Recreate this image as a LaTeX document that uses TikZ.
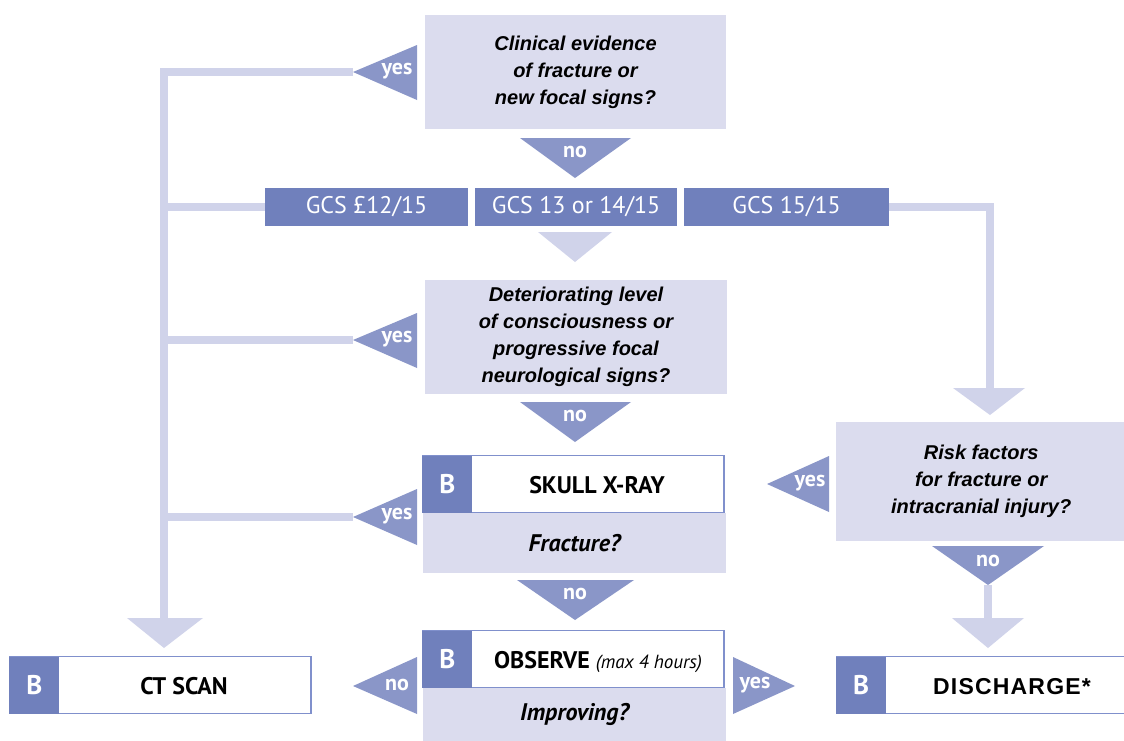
\documentclass[tikz,border=0pt]{standalone}
\usepackage{fontspec}
\setmainfont{Liberation Sans}
\newfontfamily\condfont{PT Sans}
\definecolor{lightbox}{HTML}{DBDCEE}
\definecolor{connc}{HTML}{D0D3EA}
\definecolor{tridark}{HTML}{8A96C8}
\definecolor{gcsblue}{HTML}{7080BC}
\definecolor{bordc}{HTML}{8090CC}
\begin{document}
\begin{tikzpicture}[x=1pt,y=-1pt,
  qbox/.style={fill=lightbox, inner sep=0pt, align=center,
    font=\fontsize{20}{27}\selectfont\bfseries\itshape},
  gcsbox/.style={fill=gcsblue, inner sep=0pt, minimum height=38pt,
    text=white, font=\condfont\fontsize{24}{26}\selectfont},
  wbox/.style={draw=bordc, line width=1.5pt, fill=white, inner sep=0pt, minimum height=57pt},
  bsq/.style={fill=gcsblue, inner sep=0pt, minimum height=57pt, minimum width=50pt,
    text=white, font=\condfont\fontsize{27}{29}\selectfont\bfseries},
  wtext/.style={inner sep=0pt, font=\condfont\fontsize{24}{26}\selectfont\bfseries},
  lbl/.style={inner sep=0pt, text=white, font=\condfont\fontsize{22}{24}\selectfont\bfseries},
  conn/.style={draw=connc, line width=8pt},
  dark/.style={fill=tridark},
  lighttri/.style={fill=connc}
]
\useasboundingbox (0,0) rectangle (1124,740);

% ---------- coordinates for connector ends ----------
\coordinate (y1tip) at (353,72);
\coordinate (y2tip) at (353,340);
\coordinate (y3tip) at (353,517);
\coordinate (ctin) at (164,620);
\coordinate (q3in) at (990,390);
\coordinate (n4tip) at (988,585);
\coordinate (dcin) at (988,620);

% ---------- boxes ----------
\node[qbox, minimum width=301pt, minimum height=114pt] (q1) at (575.5,72)
  {Clinical evidence\\of fracture or\\new focal signs?};
\node[gcsbox, minimum width=203pt] (gcs1) at (366.5,207) {GCS £12/15};
\node[gcsbox, minimum width=202pt] (gcs2) at (576,207) {GCS 13 or 14/15};
\node[gcsbox, minimum width=205pt] (gcs3) at (786.5,207) {GCS 15/15};
\node[qbox, minimum width=302pt, minimum height=114pt] (q2) at (576,337)
  {Deteriorating level\\of consciousness or\\progressive focal\\neurological signs?};

% ---------- connectors ----------
\draw[conn] (y1tip) -| (ctin);
\draw[conn] (gcs1.west) -- (gcs1.west -| ctin);
\draw[conn] (y2tip) -- (y2tip -| ctin);
\draw[conn] (y3tip) -- (y3tip -| ctin);
\draw[conn] (gcs3.east) -| (q3in);
\draw[conn] (n4tip) -- (dcin);

% skull x-ray
\node[qbox, minimum width=303pt, minimum height=60pt, anchor=north] (frac) at (574.5,513)
  {\condfont\fontsize{24}{26}\selectfont\itshape\bfseries Fracture?};
\node[wbox, minimum width=301pt] (skull) at (573.5,484) {};
\node[bsq, anchor=west] (bskull) at (skull.west) {B};
\node[wtext] (skullt) at (597,485) {SKULL X-RAY};

% observe
\node[qbox, minimum width=303pt, minimum height=53pt, anchor=north] (impr) at (574.5,688)
  {\condfont\fontsize{24}{26}\selectfont\itshape\bfseries Improving?};
\node[wbox, minimum width=301pt] (obs) at (573.5,659) {};
\node[bsq, anchor=west] (bobs) at (obs.west) {B};
\node[wtext] (obst) at (598,662) {OBSERVE\hspace{6pt}{\mdseries\fontsize{19}{21}\selectfont\itshape(max 4 hours)}};

% CT scan
\node[wbox, minimum width=301pt] (ct) at (160.5,685) {};
\node[bsq, anchor=west] (bct) at (ct.west) {B};
\node[wtext] (ctt) at (184,686) {CT SCAN};

% risk factors
\node[qbox, minimum width=290pt, minimum height=119pt, anchor=west] (q3) at (836,481)
  {\fontsize{20}{25}\selectfont Risk factors\\for fracture or\\intracranial injury?};

% discharge
\node[wbox, minimum width=290pt, anchor=west] (dc) at (836,685) {};
\node[bsq, anchor=west] (bdc) at (dc.west) {B};
\node[inner sep=0pt, font=\fontsize{23}{25}\selectfont\bfseries] (dct) at (1012,687) {D\kern1.2pt I\kern1.2pt S\kern1.2pt C\kern1.2pt H\kern1.2pt A\kern1.2pt R\kern1.2pt G\kern1.2pt E\kern1.2pt *};

% ---------- triangles ----------
\fill[dark] (y1tip) -- (417,45) -- (417,100) -- cycle;
\node[lbl] (ly1) at (397,71) {yes};
\fill[dark] (520,138) -- (631,138) -- (575,178) -- cycle;
\node[lbl] (ln1) at (575,152) {no};
\fill[lighttri] (538,232) -- (612,232) -- (575,262) -- cycle;
\fill[dark] (y2tip) -- (417,313) -- (417,368) -- cycle;
\node[lbl] (ly2) at (397,339) {yes};
\fill[dark] (520,402) -- (631,402) -- (575,442) -- cycle;
\node[lbl] (ln2) at (575,416) {no};
\fill[dark] (y3tip) -- (417,489) -- (417,545) -- cycle;
\node[lbl] (ly3) at (397,516) {yes};
\fill[dark] (517,580) -- (634,580) -- (575,620) -- cycle;
\node[lbl] (ln3) at (575,594) {no};
\fill[dark] (353,686) -- (417,657) -- (417,714) -- cycle;
\node[lbl] (ln4) at (397,685) {no};
\fill[dark] (795,686) -- (733,657) -- (733,714) -- cycle;
\node[lbl] (ly4) at (755,685) {yes};
\fill[dark] (767,484) -- (829,456) -- (829,512) -- cycle;
\node[lbl] (ly5) at (810,483) {yes};
\fill[dark] (932,546) -- (1044,546) -- (n4tip) -- cycle;
\node[lbl] (ln5) at (988,561) {no};
\fill[lighttri] (127,618) -- (203,618) -- (164,648) -- cycle;
\fill[lighttri] (953,388) -- (1025,388) -- (990,415) -- cycle;
\fill[lighttri] (952,618) -- (1024,618) -- (988,648) -- cycle;
\end{tikzpicture}
\end{document}
